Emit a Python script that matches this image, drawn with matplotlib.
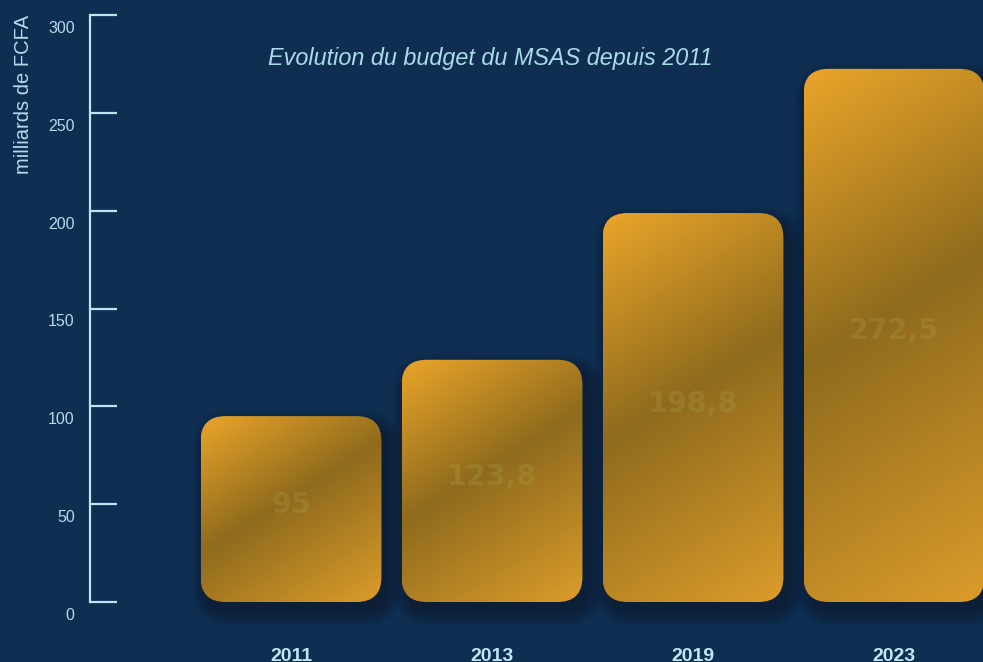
import numpy as np
import matplotlib
matplotlib.use("Agg")
import matplotlib.pyplot as plt
from matplotlib.patches import FancyBboxPatch
from matplotlib.transforms import ScaledTranslation
from matplotlib.colors import to_rgb

# ---- data ----
years = ["2011", "2013", "2019", "2023"]
budget = [95, 123.8, 198.8, 272.5]
value_labels = ["95", "123,8", "198,8", "272,5"]
yticks = [0, 50, 100, 150, 200, 250, 300]
title = "Evolution du budget du MSAS depuis 2011"
ylabel = "milliards de FCFA"

# ---- style ----
W_PX, H_PX, DPI = 983, 662, 100
BG = "#0f2e51"
AXC = "#bfe3f0"
TXT = "#b4dcea"
plt.rcParams['font.family'] = ['Liberation Sans', 'DejaVu Sans']

fig = plt.figure(figsize=(W_PX / DPI, H_PX / DPI), dpi=DPI, facecolor=BG)
ax_l, ax_r, ax_t, ax_b = 90, 983, 15, 602
ax = fig.add_axes([ax_l / W_PX, (H_PX - ax_b) / H_PX,
                   (ax_r - ax_l) / W_PX, (ax_b - ax_t) / H_PX])
ax.set_facecolor(BG)
step_px = 201.0
xmax = (ax_r - ax_l) / step_px
xpx = step_px                 # px per x unit
ypx = (ax_b - ax_t) / 300.0   # px per y unit

bw = 0.9
r_px = 25
r = r_px / xpx
asp = (1 / ypx) / (1 / xpx)

c0 = np.array(to_rgb("#eba52a"))
c1 = np.array(to_rgb("#8f6b1d"))
c2 = np.array(to_rgb("#dc9c2b"))
tb = 0.46
s = 0.62

for i, v in enumerate(budget):
    xc = i + 1
    x0 = xc - bw / 2
    # soft shadow
    for k in range(10):
        pad = (k * 1.6) / xpx
        sh = FancyBboxPatch((x0 + 6 / xpx, -9 / ypx), bw, v,
                            boxstyle=f"round,pad={pad},rounding_size={r + pad}",
                            mutation_aspect=asp, facecolor="#0d1626",
                            edgecolor="none", alpha=0.07, clip_on=False, zorder=1)
        ax.add_patch(sh)
    wpx = bw * xpx
    hpx = v * ypx
    xs = np.linspace(0, wpx, int(wpx))
    ys = np.linspace(0, hpx, int(hpx))
    X, Y = np.meshgrid(xs, ys)
    t = ((X * s + Y) / (wpx * s + hpx))[..., None]
    img = np.where(t < tb, c0 + (c1 - c0) * (t / tb),
                   c1 + (c2 - c1) * ((t - tb) / (1 - tb)))
    patch = FancyBboxPatch((x0, 0), bw, v,
                           boxstyle=f"round,pad=0,rounding_size={r}",
                           mutation_aspect=asp, facecolor="none",
                           edgecolor="none", linewidth=0, zorder=3)
    ax.add_patch(patch)
    im = ax.imshow(img, extent=[x0, x0 + bw, 0, v], origin="upper",
                   aspect="auto", interpolation="bilinear", zorder=2)
    im.set_clip_path(patch)
    ax.text(xc, v / 2 + 4 / ypx, value_labels[i], ha="center", va="center",
            fontsize=20.5, fontweight="bold", family="DejaVu Sans",
            color=(175 / 255, 171 / 255, 77 / 255), alpha=0.24, zorder=4)

ax.set_xlim(0, xmax)
ax.set_ylim(0, 300)
ax.set_aspect("auto")

for sp in ["top", "right", "bottom"]:
    ax.spines[sp].set_visible(False)
ax.spines["left"].set_color(AXC)
ax.spines["left"].set_linewidth(1.6)

ax.set_yticks(yticks)
ax.set_yticklabels([str(t) for t in yticks])
ax.tick_params(axis="y", direction="in", length=19.5, width=1.6, color=AXC,
               labelcolor=TXT, labelsize=11.5, pad=11)
off = ScaledTranslation(0, -0.12, fig.dpi_scale_trans)
for lab in ax.get_yticklabels():
    lab.set_transform(lab.get_transform() + off)

ax.set_xticks([i + 1 for i in range(len(years))])
ax.set_xticklabels(years)
ax.tick_params(axis="x", length=0, pad=33, labelsize=14, labelcolor="#c3e5f0")
for lab in ax.get_xticklabels():
    lab.set_fontweight("bold")

ax.set_ylabel(ylabel, fontsize=14.5, color=TXT, ha="right", va="center")
ax.yaxis.set_label_coords((24 - ax_l) / (ax_r - ax_l), 1.0)

fig.text(490 / W_PX, 1 - 59 / H_PX, title, ha="center", va="center",
         style="italic", fontsize=16.8, color="#a9dbe8")

fig.savefig("out.png", dpi=DPI, facecolor=BG)
